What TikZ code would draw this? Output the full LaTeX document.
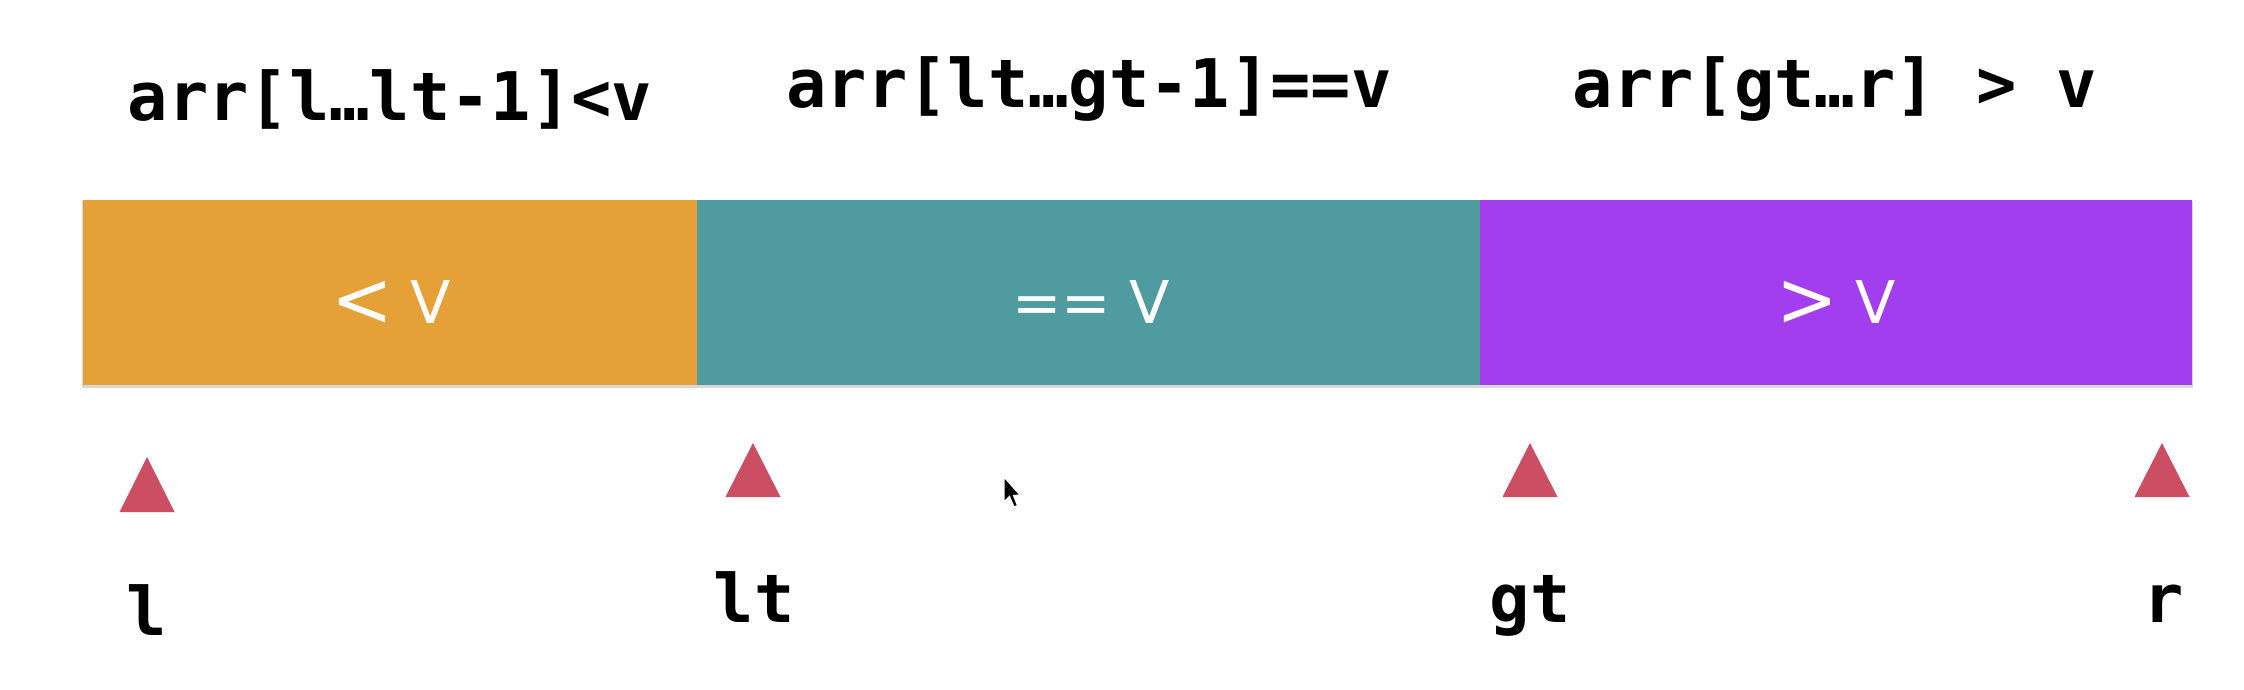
\documentclass[tikz,border=0pt]{standalone}
\usepackage{graphicx}
\usepackage{fontspec}
\newfontfamily\monof{DejaVu Sans Mono}
\newfontfamily\boxf{DejaVu Sans}
\definecolor{segorange}{RGB}{230,160,56}
\definecolor{segteal}{RGB}{80,155,160}
\definecolor{segpurple}{RGB}{162,62,238}
\definecolor{markred}{RGB}{204,78,98}
\newcommand{\bigsym}[1]{\raisebox{-1.5pt}{\scalebox{1.25}[1.32]{#1}}}
\begin{document}
\begin{tikzpicture}[x=0.5pt,y=-0.5pt,
  toplab/.style={font=\monof\bfseries\fontsize{33.5}{40}\selectfont, inner sep=0pt, anchor=base},
  seglab/.style={font=\boxf\fontsize{29.5}{35}\selectfont, text=white, inner sep=0pt, anchor=base},
  marker/.style={fill=markred},
  segment/.style={draw=none}]
\useasboundingbox (0,0) rectangle (2244,690);
\fill[white] (0,0) rectangle (2244,690);
% faint shadow under the bar
\fill[black!30, opacity=0.5] (82,201) rectangle (2193,387.5);
% segments
\fill[segorange, segment] (83,200) rectangle (697,385);
\fill[segteal, segment] (697,200) rectangle (1480,385);
\fill[segpurple, segment] (1480,200) rectangle (2192,385);
% segment texts
\node[seglab] (sl) at (391,323) {\bigsym{<}\hspace{0.3em}V};
\node[seglab] (se) at (1091,323) {==\hspace{0.3em}V};
\node[seglab] (sg) at (1836,323) {\bigsym{>}\hspace{0.3em}V};
% top labels
\node[toplab] (tl) at (390,121) {arr[l…lt-1]<v};
\node[toplab] (te) at (1089,108) {arr[lt…gt-1]==v};
\node[toplab] (tg) at (1835,108) {arr[gt…r] > v};
% markers
\fill[marker] (147,457) -- (174.5,512) -- (119.5,512) -- cycle;
\fill[marker] (753,443) -- (780.5,497) -- (725.5,497) -- cycle;
\fill[marker] (1530,443) -- (1557.5,497) -- (1502.5,497) -- cycle;
\fill[marker] (2162,443) -- (2189.5,497) -- (2134.5,497) -- cycle;
% index labels
\node[toplab] (il) at (147,635) {l};
\node[toplab] (ilt) at (754,622) {lt};
\node[toplab] (igt) at (1530,622) {gt};
\node[toplab] (ir) at (2164,622) {r};
% mouse pointer
\fill[black, draw=white, line width=0.6pt] (1004,477) -- (1004,502) -- (1009.5,496.5) -- (1014,507) -- (1017.5,505.5) -- (1013.5,495.5) -- (1020,495) -- cycle;
\end{tikzpicture}
\end{document}
